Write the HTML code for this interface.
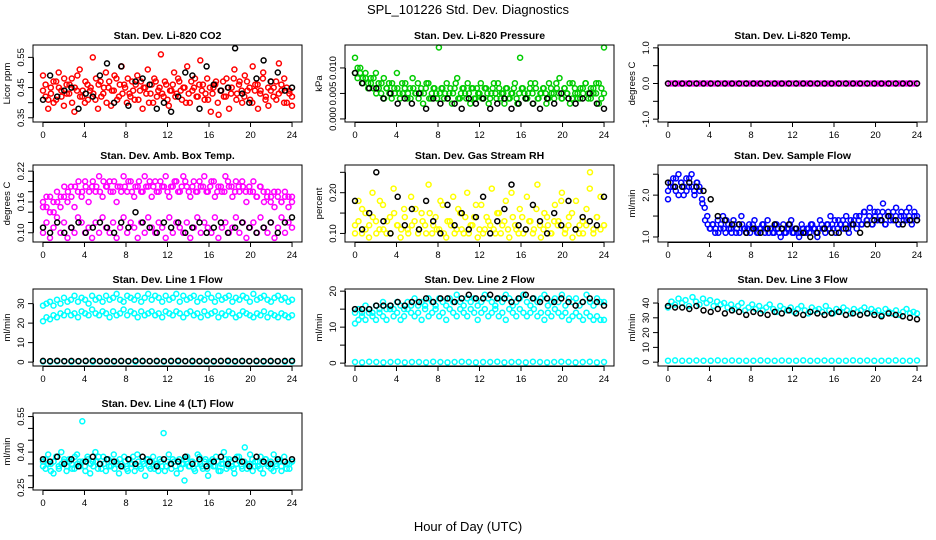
<!DOCTYPE html>
<html><head><meta charset="utf-8"><style>
html,body{margin:0;padding:0;background:#fff;}
svg{display:block;font-family:"Liberation Sans",sans-serif;}
</style></head><body>
<svg id="chart" width="936" height="540" viewBox="0 0 936 540">
<text x="468" y="14" font-size="13" text-anchor="middle">SPL_101226  Std. Dev. Diagnostics</text>
<text x="468" y="531" font-size="13" text-anchor="middle">Hour of Day (UTC)</text>
</svg>
<script>
const xTicks=[0,4,8,12,16,20,24];
const co2Red=[0.49,0.42,0.38,0.45,0.47,0.41,0.50,0.44,0.39,0.46,0.43,0.48,0.37,0.44,0.51,0.42,0.40,0.46,0.44,0.55,0.41,0.38,0.47,0.43,0.50,0.45,0.39,0.44,0.48,0.42,0.52,0.46,0.40,0.43,0.47,0.41,0.49,0.44,0.38,0.45,0.51,0.43,0.40,0.47,0.44,0.56,0.42,0.46,0.39,0.44,0.50,0.43,0.47,0.41,0.45,0.52,0.40,0.44,0.48,0.42,0.54,0.46,0.43,0.41,0.37,0.45,0.47,0.36,0.44,0.42,0.48,0.38,0.45,0.51,0.43,0.47,0.40,0.49,0.44,0.41,0.52,0.46,0.38,0.44,0.50,0.42,0.39,0.47,0.45,0.41,0.53,0.44,0.48,0.40,0.43,0.39];
const co2Red2=[0.44,0.46,0.41,0.43,0.40,0.47,0.45,0.42,0.48,0.43,0.46,0.40,0.45,0.49,0.42,0.44,0.47,0.41,0.45,0.43,0.48,0.46,0.42,0.45,0.40,0.47,0.44,0.49,0.41,0.46,0.43,0.45,0.48,0.42,0.44,0.46,0.41,0.47,0.45,0.43,0.40,0.46,0.48,0.42,0.45,0.43,0.47,0.41,0.44,0.46,0.42,0.48,0.44,0.45,0.40,0.43,0.47,0.45,0.42,0.46,0.44,0.41,0.48,0.45,0.43,0.46,0.40,0.44,0.47,0.42,0.45,0.43,0.48,0.41,0.46,0.44,0.42,0.47,0.45,0.40,0.44,0.46,0.43,0.48,0.41,0.45,0.44,0.42,0.47,0.43,0.46,0.40,0.45,0.44,0.42];
const co2Black=[0.41,0.49,0.42,0.44,0.45,0.38,0.43,0.42,0.49,0.53,0.40,0.52,0.39,0.47,0.48,0.46,0.38,0.40,0.37,0.42,0.50,0.49,0.38,0.52,0.46,0.44,0.45,0.58,0.43,0.40,0.48,0.54,0.47,0.50,0.44,0.45];
const presGreen=[0.012,0.010,0.009,0.008,0.009,0.007,0.008,0.006,0.009,0.007,0.005,0.008,0.006,0.007,0.004,0.006,0.009,0.005,0.007,0.006,0.004,0.006,0.008,0.005,0.007,0.005,0.003,0.006,0.007,0.004,0.006,0.005,0.014,0.006,0.004,0.007,0.005,0.003,0.006,0.008,0.004,0.006,0.005,0.007,0.003,0.006,0.004,0.005,0.007,0.004,0.006,0.003,0.005,0.007,0.004,0.006,0.005,0.003,0.006,0.004,0.005,0.007,0.003,0.012,0.006,0.004,0.005,0.007,0.003,0.006,0.004,0.005,0.006,0.003,0.007,0.005,0.004,0.006,0.008,0.004,0.006,0.005,0.003,0.007,0.005,0.004,0.006,0.005,0.007,0.004,0.006,0.005,0.007,0.003,0.006,0.014];
const presGreen2=[0.009,0.008,0.010,0.007,0.008,0.006,0.007,0.008,0.005,0.006,0.007,0.004,0.006,0.005,0.007,0.005,0.006,0.004,0.005,0.007,0.005,0.004,0.006,0.005,0.004,0.006,0.005,0.007,0.004,0.005,0.006,0.004,0.005,0.006,0.005,0.004,0.006,0.005,0.007,0.004,0.005,0.006,0.004,0.005,0.006,0.004,0.006,0.005,0.004,0.006,0.005,0.004,0.006,0.005,0.007,0.004,0.005,0.006,0.004,0.005,0.006,0.004,0.005,0.006,0.005,0.004,0.006,0.005,0.007,0.004,0.005,0.006,0.005,0.004,0.006,0.005,0.007,0.005,0.004,0.006,0.005,0.007,0.004,0.006,0.005,0.004,0.006,0.007,0.005,0.004,0.006,0.005,0.007,0.004,0.005];
const presBlack=[0.009,0.007,0.006,0.006,0.004,0.005,0.003,0.004,0.003,0.005,0.002,0.004,0.003,0.004,0.003,0.002,0.004,0.003,0.004,0.002,0.003,0.004,0.002,0.003,0.004,0.003,0.002,0.004,0.003,0.005,0.004,0.003,0.004,0.005,0.003,0.002];
const tempMag=[0,0,0,0,0,0,0,0,0,0,0,0,0,0,0,0,0,0,0,0,0,0,0,0,0,0,0,0,0,0,0,0,0,0,0,0,0,0,0,0,0,0,0,0,0,0,0,0,0,0,0,0,0,0,0,0,0,0,0,0,0,0,0,0,0,0,0,0,0,0,0,0,0,0,0,0,0,0,0,0,0,0,0,0,0,0,0,0,0,0,0,0,0,0,0,0];
const tempBlack=[0,0,0,0,0,0,0,0,0,0,0,0,0,0,0,0,0,0,0,0,0,0,0,0,0,0,0,0,0,0,0,0,0,0,0,0];
const ambUpper=[0.15,0.17,0.14,0.16,0.18,0.15,0.17,0.16,0.19,0.15,0.18,0.17,0.20,0.16,0.19,0.18,0.21,0.17,0.19,0.20,0.18,0.16,0.19,0.21,0.18,0.20,0.17,0.19,0.18,0.21,0.19,0.17,0.20,0.18,0.19,0.21,0.17,0.19,0.20,0.18,0.21,0.19,0.17,0.20,0.18,0.19,0.21,0.18,0.20,0.17,0.19,0.18,0.21,0.19,0.17,0.20,0.18,0.19,0.16,0.18,0.20,0.17,0.19,0.16,0.18,0.17,0.15,0.18,0.16,0.17,0.15,0.17];
const ambUpper2=[0.16,0.15,0.17,0.14,0.16,0.17,0.19,0.18,0.17,0.19,0.20,0.18,0.19,0.18,0.20,0.19,0.18,0.20,0.19,0.18,0.20,0.19,0.18,0.19,0.20,0.18,0.19,0.20,0.18,0.19,0.20,0.19,0.18,0.20,0.19,0.18,0.19,0.20,0.18,0.19,0.20,0.18,0.19,0.18,0.20,0.19,0.18,0.19,0.20,0.18,0.19,0.18,0.20,0.19,0.18,0.19,0.20,0.18,0.19,0.18,0.17,0.19,0.18,0.17,0.16,0.18,0.17,0.16,0.18,0.17,0.16];
const ambLower=[0.10,0.12,0.09,0.11,0.13,0.10,0.12,0.09,0.11,0.10,0.13,0.12,0.10,0.11,0.09,0.12,0.10,0.13,0.11,0.10,0.12,0.09,0.11,0.13,0.10,0.12,0.11,0.09,0.12,0.10,0.13,0.11,0.10,0.12,0.11,0.09,0.13,0.10,0.12,0.11,0.10,0.12,0.09,0.11,0.13,0.10,0.12,0.11,0.10,0.13,0.09,0.11,0.12,0.10,0.11,0.13,0.10,0.12,0.09,0.11,0.12,0.10,0.13,0.11,0.10,0.12,0.09,0.11,0.13,0.10,0.12,0.11];
const ambBlack=[0.11,0.10,0.12,0.10,0.11,0.12,0.10,0.11,0.12,0.11,0.10,0.12,0.11,0.14,0.12,0.11,0.10,0.12,0.11,0.12,0.10,0.11,0.12,0.10,0.11,0.12,0.10,0.11,0.12,0.11,0.10,0.11,0.12,0.10,0.12,0.13];
const rhYellow=[0.12,0.18,0.10,0.15,0.09,0.20,0.13,0.11,0.17,0.10,0.14,0.21,0.12,0.09,0.16,0.11,0.19,0.13,0.10,0.15,0.12,0.22,0.10,0.14,0.11,0.17,0.09,0.13,0.19,0.11,0.15,0.10,0.20,0.12,0.14,0.09,0.17,0.11,0.13,0.21,0.10,0.15,0.12,0.18,0.09,0.14,0.11,0.16,0.10,0.19,0.13,0.11,0.22,0.09,0.15,0.12,0.10,0.17,0.13,0.20,0.11,0.14,0.09,0.18,0.12,0.10,0.16,0.25,0.11,0.14,0.19,0.12];
const rhYellow2=[0.10,0.13,0.16,0.11,0.12,0.14,0.10,0.18,0.11,0.13,0.10,0.15,0.12,0.11,0.14,0.10,0.12,0.16,0.11,0.13,0.10,0.15,0.12,0.11,0.18,0.10,0.13,0.12,0.10,0.16,0.11,0.14,0.10,0.12,0.17,0.11,0.10,0.14,0.12,0.11,0.15,0.10,0.13,0.11,0.20,0.12,0.10,0.14,0.11,0.13,0.10,0.16,0.12,0.11,0.14,0.10,0.13,0.12,0.18,0.10,0.12,0.15,0.11,0.10,0.13,0.12,0.21,0.10,0.14,0.11,0.12];
const rhBlack=[0.18,0.11,0.15,0.25,0.13,0.10,0.19,0.12,0.16,0.11,0.18,0.13,0.10,0.17,0.12,0.15,0.11,0.14,0.19,0.10,0.13,0.16,0.22,0.12,0.11,0.17,0.13,0.10,0.15,0.12,0.18,0.11,0.14,0.13,0.12,0.19];
const flowBlue=[1.9,2.2,2.4,2.1,2.5,2.3,2.0,2.4,2.2,2.5,2.1,2.3,2.2,1.9,1.7,1.5,1.2,1.3,1.1,1.4,1.2,1.5,1.1,1.3,1.2,1.4,1.1,1.3,1.5,1.2,1.1,1.3,1.2,1.4,1.1,1.2,1.3,1.1,1.4,1.2,1.1,1.3,1.2,1.0,1.3,1.1,1.2,1.4,1.1,1.2,1.0,1.3,1.1,1.2,1.1,1.3,1.2,1.0,1.4,1.2,1.1,1.3,1.5,1.2,1.1,1.4,1.3,1.2,1.5,1.1,1.3,1.4,1.2,1.5,1.3,1.6,1.4,1.7,1.3,1.5,1.6,1.4,1.8,1.3,1.6,1.5,1.4,1.7,1.3,1.6,1.5,1.4,1.7,1.3,1.6,1.5];
const flowBlue2=[2.1,2.3,2.2,2.4,2.0,2.3,2.2,2.1,2.4,2.2,2.0,2.3,2.1,1.8,1.4,1.3,1.2,1.3,1.2,1.1,1.3,1.2,1.4,1.2,1.1,1.3,1.2,1.1,1.3,1.2,1.2,1.1,1.3,1.2,1.1,1.2,1.3,1.2,1.1,1.2,1.1,1.3,1.1,1.2,1.1,1.2,1.3,1.1,1.2,1.1,1.1,1.2,1.1,1.2,1.3,1.2,1.1,1.2,1.3,1.2,1.3,1.2,1.3,1.4,1.2,1.3,1.4,1.3,1.2,1.4,1.3,1.5,1.4,1.3,1.6,1.4,1.5,1.3,1.6,1.4,1.5,1.6,1.3,1.5,1.4,1.6,1.5,1.3,1.5,1.4,1.6,1.5,1.4,1.5,1.4];
const flowBlack=[2.3,2.2,2.2,2.3,2.2,2.1,1.9,1.5,1.4,1.3,1.3,1.1,1.2,1.1,1.2,1.3,1.2,1.3,1.2,1.1,1.0,1.1,1.2,1.1,1.1,1.2,1.3,1.1,1.3,1.4,1.4,1.5,1.4,1.3,1.4,1.4];
const line1Upper=[29,30,31,29,32,30,33,31,32,34,31,33,32,30,34,32,33,31,34,32,33,35,32,31,34,33,32,34,31,33,35,32,34,33,31,34,32,33,35,31,34,32,33,34,31,33,32,35,33,31,34,32,33,34,31,33,32,34,33,31,35,32,33,34,32,31,33,34,32,33,31,32];
const line1Lower=[21,23,22,24,23,25,24,26,24,25,23,26,25,24,27,25,24,26,25,23,26,24,25,27,24,26,25,23,26,24,25,26,24,25,23,26,25,24,26,25,23,25,26,24,25,23,26,24,25,26,23,25,24,26,25,23,24,26,25,24,23,25,24,26,23,25,24,23,25,24,23,24];
const line1Zero=[0.3,0.2,0.4,0.3,0.2,0.3,0.4,0.2,0.3,0.3,0.2,0.4,0.3,0.2,0.3,0.4,0.3,0.2,0.3,0.3,0.4,0.2,0.3,0.3,0.2,0.4,0.3,0.2,0.3,0.4,0.3,0.2,0.3,0.4,0.2,0.3];
const line1Black=[0.6,0.5,0.7,0.5,0.6,0.5,0.6,0.7,0.5,0.6,0.5,0.6,0.5,0.7,0.6,0.5,0.6,0.5,0.6,0.7,0.5,0.6,0.5,0.6,0.5,0.6,0.7,0.5,0.6,0.5,0.6,0.5,0.6,0.5,0.6,0.7];
const line2Upper=[14,15,14,16,15,14,16,15,17,15,16,15,17,16,15,17,16,18,16,17,16,18,17,16,18,17,16,18,17,19,17,16,18,17,18,16,17,19,18,17,16,18,17,19,18,16,17,18,19,17,16,18,17,18,19,16,17,18,17,19,16,18,17,18,16,17,19,17,16,18,17,17];
const line2Lower=[11,12,13,12,14,13,12,14,13,12,15,13,14,12,13,15,14,13,14,12,15,13,14,15,13,14,12,15,14,13,15,14,13,15,14,12,14,15,13,14,15,13,14,12,15,14,13,15,14,13,14,15,13,14,12,14,13,15,14,13,14,12,13,14,13,12,14,13,12,13,12,12];
const line2Zero=[0.3,0.2,0.4,0.3,0.2,0.3,0.4,0.2,0.3,0.3,0.2,0.4,0.3,0.2,0.3,0.4,0.3,0.2,0.3,0.3,0.4,0.2,0.3,0.3,0.2,0.4,0.3,0.2,0.3,0.4,0.3,0.2,0.3,0.4,0.2,0.3];
const line2Black=[15,15,15,16,16,16,17,16,17,17,18,17,18,18,17,18,19,18,18,19,18,18,17,18,19,18,17,18,17,18,17,16,17,18,17,16];
const line3Cyan=[37,41,39,43,40,42,38,44,41,39,43,40,42,38,41,39,40,37,39,36,38,40,35,37,39,36,38,35,37,39,36,34,38,36,35,37,34,36,38,35,33,37,35,36,34,38,35,33,36,34,37,35,33,36,34,35,37,33,36,34,35,32,36,34,33,35,32,34,36,33,34,33];
const line3Zero=[1,1.2,0.9,1,1.1,1,0.9,1.2,1,1.1,1,0.9,1,1.2,1,0.9,1.1,1,1,1.2,0.9,1,1.1,1,0.9,1,1.2,1,1.1,0.9,1,1,1.2,0.9,1,1.1];
const line3Black=[38,37,37,36,38,35,34,36,33,35,34,32,34,33,32,34,33,35,33,32,34,33,32,33,34,32,33,32,33,32,31,33,32,31,30,29];
const line4Cyan=[0.36,0.33,0.39,0.35,0.31,0.38,0.34,0.40,0.36,0.32,0.37,0.35,0.33,0.39,0.36,0.53,0.34,0.38,0.31,0.36,0.40,0.33,0.35,0.38,0.32,0.37,0.34,0.39,0.36,0.31,0.35,0.38,0.33,0.37,0.35,0.32,0.39,0.34,0.36,0.30,0.37,0.33,0.38,0.35,0.32,0.36,0.48,0.34,0.39,0.33,0.36,0.31,0.37,0.35,0.28,0.38,0.34,0.36,0.32,0.39,0.35,0.33,0.37,0.30,0.36,0.34,0.38,0.32,0.35,0.40,0.33,0.37,0.34,0.31,0.38,0.36,0.33,0.42,0.35,0.39,0.32,0.36,0.34,0.38,0.31,0.37,0.35,0.33,0.39,0.34,0.36,0.32,0.38,0.35,0.33,0.36];
const line4Cyan2=[0.34,0.37,0.35,0.32,0.36,0.38,0.33,0.35,0.37,0.34,0.36,0.33,0.38,0.35,0.34,0.36,0.32,0.37,0.35,0.34,0.36,0.38,0.33,0.35,0.37,0.34,0.36,0.33,0.35,0.37,0.34,0.36,0.32,0.35,0.38,0.34,0.36,0.33,0.35,0.37,0.34,0.36,0.33,0.35,0.37,0.34,0.32,0.36,0.35,0.37,0.34,0.36,0.33,0.35,0.37,0.34,0.36,0.33,0.35,0.38,0.34,0.36,0.33,0.35,0.37,0.34,0.36,0.32,0.35,0.37,0.34,0.36,0.33,0.35,0.38,0.34,0.36,0.33,0.35,0.37,0.34,0.36,0.33,0.35,0.37,0.34,0.36,0.32,0.35,0.37,0.34,0.36,0.33,0.35,0.36];
const line4Black=[0.37,0.36,0.38,0.35,0.37,0.34,0.36,0.38,0.35,0.37,0.36,0.34,0.37,0.35,0.38,0.36,0.34,0.37,0.35,0.36,0.38,0.35,0.37,0.34,0.36,0.38,0.35,0.37,0.36,0.34,0.38,0.36,0.35,0.37,0.36,0.37];

const panels=[
 {name:"co2",title:"Stan. Dev. Li-820 CO2",ylab:"Licor ppm",col:0,row:0,ymin:0.336,ymax:0.591,ticks:[0.35,0.40,0.45,0.50,0.55],labels:["0.35","","0.45","","0.55"],series:[[co2Red,"#ff0000"],[co2Red2,"#ff0000"],[co2Black,"#000"]]},
 {name:"pressure",title:"Stan. Dev. Li-820 Pressure",ylab:"kPa",col:1,row:0,ymin:-0.0006,ymax:0.0145,ticks:[0,0.005,0.010],labels:["0.000","0.005","0.010"],series:[[presGreen,"#00cc00"],[presGreen2,"#00cc00"],[presBlack,"#000"]]},
 {name:"temp",title:"Stan. Dev. Li-820 Temp.",ylab:"degrees C",col:2,row:0,ymin:-1.08,ymax:1.08,ticks:[-1,-0.5,0,0.5,1],labels:["-1.0","","0.0","","1.0"],series:[[tempMag,"#ff00ff"],[tempBlack,"#000"]]},
 {name:"ambbox",title:"Stan. Dev. Amb. Box Temp.",ylab:"degrees C",col:0,row:1,ymin:0.082,ymax:0.232,ticks:[0.10,0.12,0.14,0.16,0.18,0.20,0.22],labels:["0.10","","","0.16","","","0.22"],series:[[ambUpper,"#ff00ff"],[ambUpper2,"#ff00ff"],[ambLower,"#ff00ff"],[ambBlack,"#000"]]},
 {name:"gasrh",title:"Stan. Dev. Gas Stream RH",ylab:"percent",col:1,row:1,ymin:0.079,ymax:0.268,ticks:[0.10,0.15,0.20,0.25],labels:["0.10","","0.20",""],series:[[rhYellow,"#ffff00"],[rhYellow2,"#ffff00"],[rhBlack,"#000"]]},
 {name:"sampleflow",title:"Stan. Dev. Sample Flow",ylab:"ml/min",col:2,row:1,ymin:0.88,ymax:2.72,ticks:[1.0,1.5,2.0,2.5],labels:["1.0","","2.0",""],series:[[flowBlue,"#0000ff"],[flowBlue2,"#0000ff"],[flowBlack,"#000"]]},
 {name:"line1",title:"Stan. Dev. Line 1 Flow",ylab:"ml/min",col:0,row:2,ymin:-2,ymax:37.5,ticks:[0,10,20,30],labels:["0","10","20","30"],series:[[line1Upper,"#00ffff"],[line1Lower,"#00ffff"],[line1Zero,"#00ffff"],[line1Black,"#000"]]},
 {name:"line2",title:"Stan. Dev. Line 2 Flow",ylab:"ml/min",col:1,row:2,ymin:-0.8,ymax:20.6,ticks:[0,5,10,15,20],labels:["0","","10","","20"],series:[[line2Upper,"#00ffff"],[line2Lower,"#00ffff"],[line2Zero,"#00ffff"],[line2Black,"#000"]]},
 {name:"line3",title:"Stan. Dev. Line 3 Flow",ylab:"ml/min",col:2,row:2,ymin:-2.6,ymax:49.5,ticks:[0,10,20,30,40],labels:["0","10","20","30","40"],series:[[line3Cyan,"#00ffff"],[line3Zero,"#00ffff"],[line3Black,"#000"]]},
 {name:"line4",title:"Stan. Dev. Line 4 (LT) Flow",ylab:"ml/min",col:0,row:3,ymin:0.24,ymax:0.565,ticks:[0.25,0.30,0.35,0.40,0.45,0.50,0.55],labels:["0.25","","","0.40","","","0.55"],series:[[line4Cyan,"#00ffff"],[line4Cyan2,"#00ffff"],[line4Black,"#000"]]}
];
const colLeft=[33,345,658], rowTop=[45,165,289,413], PW=269, PH=77;
const NS="http://www.w3.org/2000/svg";
const svg=document.getElementById('chart');
function mk(tag,attrs,parent){const e=document.createElementNS(NS,tag);for(const k in attrs)e.setAttribute(k,attrs[k]);parent.appendChild(e);return e;}
panels.forEach(p=>{
 const L=colLeft[p.col],T=rowTop[p.row];
 const g=mk('g',{},svg);
 
 
 const xs=h=>L+(h+0.96)/25.92*PW;
 const ys=v=>T+PH-(v-p.ymin)/(p.ymax-p.ymin)*PH;
 const t=mk('text',{x:L+PW/2,y:T-6,'font-size':10.5,'font-weight':'bold','text-anchor':'middle'},g);
 t.textContent=p.title;
 
 
 p.series.forEach((s,si)=>{
  const vals=s[0],n=vals.length;
  const sg=mk('g',{fill:'none',stroke:s[1],'stroke-width':1.5},g);
  
  
  vals.forEach((v,i)=>{
   const h=n>1?i*24/(n-1):0;
   const c=mk('circle',{cx:xs(h).toFixed(1),cy:ys(v).toFixed(1),r:2.5},sg);
   
   
  });
 });
 const fr=mk('rect',{x:L,y:T,width:PW,height:PH,fill:'none',stroke:'#000','stroke-width':1},g);
 
 
 xTicks.forEach(h=>{
  mk('line',{x1:xs(h),x2:xs(h),y1:T+PH,y2:T+PH+5,stroke:'#000'},g);
  const tx=mk('text',{x:xs(h),y:T+PH+16,'font-size':9.5,'text-anchor':'middle'},g);
  tx.textContent=h;
  
  
 });
 mk('line',{x1:xs(0),x2:xs(24),y1:T+PH+0.5,y2:T+PH+0.5,stroke:'#000'},g);
 p.ticks.forEach((v,i)=>{
  const y=ys(v);
  mk('line',{x1:L-5,x2:L,y1:y,y2:y,stroke:'#000'},g);
  if(p.labels[i]){
   const ty=mk('text',{x:0,y:0,'font-size':9.5,'text-anchor':'middle',transform:`translate(${L-9},${y}) rotate(-90)`},g);
   ty.textContent=p.labels[i];
   
   
  }
 });
 mk('line',{x1:L+0.5,x2:L+0.5,y1:ys(p.ticks[0]),y2:ys(p.ticks[p.ticks.length-1]),stroke:'#000'},g);
 const yl=mk('text',{x:0,y:0,'font-size':9.5,'text-anchor':'middle',transform:`translate(${L-23},${T+PH/2}) rotate(-90)`},g);
 yl.textContent=p.ylab;
 
 
});
</script>
</body></html>
